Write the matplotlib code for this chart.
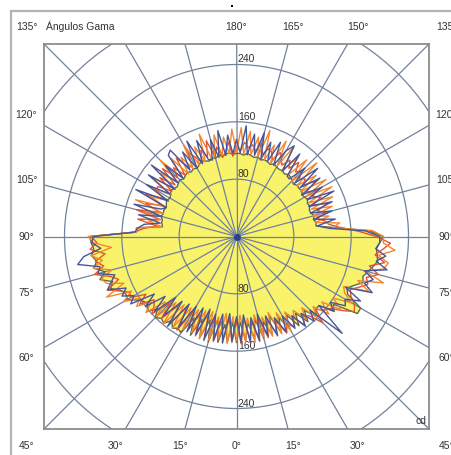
import numpy as np
import matplotlib
matplotlib.use("Agg")
import matplotlib.pyplot as plt
from matplotlib.patches import Rectangle, Circle

plt.rcParams['font.family'] = ['Liberation Sans', 'DejaVu Sans']

# gamma angles (deg): 0 = down, +90 = right, -90 = left, +-180 = up
gamma = np.linspace(-180, 180, 145)

# Yellow filled curve (cd)
yellow = [
    116, 115, 117, 116,  114, 116, 113, 115,  112, 114, 116, 113,  110, 112, 110, 113,
    111, 109, 112, 110,  108, 110, 112, 109,  107, 110, 108, 106,  108, 107, 109, 106,
    106, 104, 140, 140,  205, 203, 200, 204,  198, 204, 190, 200,  184, 190, 178, 174,
    176, 165, 158, 156,  162, 150, 160, 155,  158, 148, 156, 152,  155, 128, 152, 125,
    150, 122, 152, 118,  150, 124, 148, 120,  148, 120, 146, 122,  145, 118, 147, 125,
    146, 120, 148, 128,  148, 130, 152, 135,  155, 140, 158, 150,  150, 172, 165, 200,
    200, 175, 170, 178,  188, 185, 190, 195,  200, 198, 196, 200,  205, 185, 140, 112,
    113, 110, 112, 109,  108, 111, 109, 112,  110, 108, 112, 110,  111, 108, 110, 112,
    113, 110, 112, 111,  112, 114, 111, 113,  114, 112, 115, 113,  115, 117, 114, 116,
    116]

red = [
    125, 112, 132, 118,  112, 128, 115, 140,  118, 130, 114, 125,  135, 115, 120, 138,
    112, 130, 116, 140,  112, 135, 110, 130,  130, 115, 140, 112,  135, 112, 145, 110,
    140, 112, 130, 142,  203, 195, 205, 185,  200, 190, 205, 185,  175, 195, 180, 168,
    170, 150, 165, 145,  150, 160, 130, 155,  125, 150, 120, 155,  118, 145, 120, 150,
    115, 148, 118, 150,  120, 145, 115, 148,  118, 150, 115, 145,  120, 150, 118, 148,
    125, 145, 130, 152,  140, 150, 138, 155,  145, 150, 170, 150,  160, 165, 180, 195,
    190, 180, 175, 185,  195, 190, 205, 190,  210, 195, 205, 215,  195, 170, 145, 130,
    125, 115, 130, 118,  135, 115, 130, 120,  128, 115, 135, 118,  125, 118, 130, 122,
    135, 120, 130, 118,  125, 132, 118, 128,  130, 120, 135, 122,  130, 125, 132, 120,
    125]

orange = [
    118, 150, 116, 140,  115, 145, 118, 112,  152, 114, 138, 113,  148, 112, 135, 110,
    142, 111, 150, 112,  138, 110, 145, 108,  140, 109, 132, 108,  150, 107, 135, 108,
    125, 105, 140, 140,  207, 200, 175, 205,  190, 205, 180, 198,  192, 170, 200, 165,
    182, 160, 170, 150,  165, 135, 158, 125,  160, 120, 155, 118,  150, 115, 148, 112,
    152, 110, 150, 115,  145, 108, 150, 112,  146, 110, 148, 115,  150, 112, 145, 118,
    148, 115, 150, 120,  152, 125, 140, 130,  150, 135, 160, 145,  168, 150, 178, 160,
    185, 170, 165, 200,  180, 215, 185, 210,  215, 200, 222, 205,  205, 190, 135, 145,
    112, 132, 110, 140,  111, 145, 110, 150,  112, 148, 109, 140,  110, 152, 108, 145,
    112, 140, 110, 148,  113, 150, 112, 138,  114, 155, 115, 142,  116, 148, 115, 152,
    118]

blue = [
    135, 116, 142, 114,  150, 113, 140, 112,  114, 145, 112, 150,  110, 140, 113, 152,
    148, 110, 140, 111,  155, 108, 150, 110,  145, 107, 155, 106,  112, 150, 108, 140,
    108, 130, 138, 142,  200, 202, 190, 215,  225, 195, 200, 178,  186, 195, 170, 180,
    165, 175, 140, 160,  130, 155, 120, 150,  118, 158, 115, 150,  112, 150, 110, 148,
    108, 152, 112, 148,  110, 150, 108, 146,  112, 147, 110, 150,  115, 148, 112, 145,
    118, 150, 125, 150,  128, 152, 135, 158,  140, 160, 145, 200,  150, 170, 160, 180,
    175, 195, 168, 205,  190, 200, 185, 215,  198, 210, 195, 200,  200, 180, 130, 114,
    140, 110, 138, 108,  142, 109, 150, 111,  138, 108, 142, 112,  148, 110, 135, 109,
    110, 145, 112, 150,  138, 112, 145, 114,  140, 113, 150, 116,  145, 115, 155, 117,
    135]

ring_values = [80, 160, 240, 320]
ring_labels = ["80", "160", "240"]
spoke_angles = np.arange(-180, 180, 15)

bottom_labels = [-45, -30, -15, 0, 15, 30, 45]
right_labels = [60, 75, 90, 105, 120]
left_labels = [-60, -75, -90, -105, -120]
top_labels = [180, 165, 150]

W, H = 452, 455
fig = plt.figure(figsize=(W / 100, H / 100), dpi=100)
# axes box in pixels: x 44..429, y 44..429 (from top)
ax = fig.add_axes([44 / W, (H - 429) / H, 385 / W, 385 / H])
R = 268.6
ax.set_xlim(-R, R)
ax.set_ylim(-R, R)
ax.set_aspect('auto')
ax.set_xticks([])
ax.set_yticks([])
for s in ax.spines.values():
    s.set_color('#8c8c8c')
    s.set_linewidth(1.3)

g = np.radians(gamma)

def xy(vals):
    v = np.asarray(vals, dtype=float)
    return v * np.sin(g), -v * np.cos(g)

grid_c = '#71819c'
# yellow fill
yx, yy = xy(yellow)
ax.fill(yx, yy, facecolor='#f9f36c', edgecolor='none', zorder=1)

# grid
for rv in ring_values:
    ax.add_patch(Circle((0, 0), rv, fill=False, ec=grid_c, lw=0.9, zorder=2))
for a in spoke_angles:
    ar = np.radians(a)
    ax.plot([0, 600 * np.sin(ar)], [0, -600 * np.cos(ar)], color=grid_c, lw=0.9, zorder=2)
for rv, lab in zip(ring_values, ring_labels):
    ax.text(2, rv, lab, fontsize=7.5, color='#333333', ha='left', va='bottom', zorder=2.5)
    ax.text(2, -rv, lab, fontsize=7.5, color='#333333', ha='left', va='bottom', zorder=2.5)

# curves
ax.plot(yx, yy, color='#5d6a45', lw=1.0, zorder=3)
rx, ry = xy(red)
ax.plot(rx, ry, color='#e4532f', lw=1.0, zorder=3.1)
ox, oy = xy(orange)
ax.plot(ox, oy, color='#f3862f', lw=1.0, zorder=3.2)
bx, by = xy(blue)
ax.plot(bx, by, color='#46569a', lw=1.0, zorder=3.3)
ax.plot([0], [0], 'o', color='#2d3f8f', ms=4, zorder=4)

ax.text(R - 4, -R + 4, 'cd', fontsize=7.5, color='#333333', ha='right', va='bottom')

# angle labels around the box
L = 293.0
tc = '#333333'
fs = 7.5
def put(xv, yv, txt):
    ax.text(xv, yv, txt, fontsize=fs, color=tc, ha='center', va='center', clip_on=False)

for a in bottom_labels:
    put(L * np.tan(np.radians(a)), -L, f"{abs(a)}°")
for a in right_labels:
    put(L, -L / np.tan(np.radians(a)), f"{abs(a)}°")
for a in left_labels:
    put(-L, L / np.tan(np.radians(a)), f"{abs(a)}°")
for a in top_labels:
    put(L * np.tan(np.radians(180 - a)), L, f"{a}°")
put(L, L, "135°")
put(-L, L, "135°")
ax.text(-L + 27, L, "Ángulos Gama", fontsize=fs, color=tc, ha='left', va='center', clip_on=False)

# outer frame
fig.add_artist(Rectangle((11 / W, -0.2), 2.0, (H - 11) / H + 0.2, transform=fig.transFigure,
                         fill=False, ec='#b4b4b4', lw=1.6))
fig.add_artist(Rectangle((231 / W, (H - 7) / H), 2 / W, 2 / H, transform=fig.transFigure,
                         fc='black', ec='none'))

fig.savefig('out.png', dpi=100)
